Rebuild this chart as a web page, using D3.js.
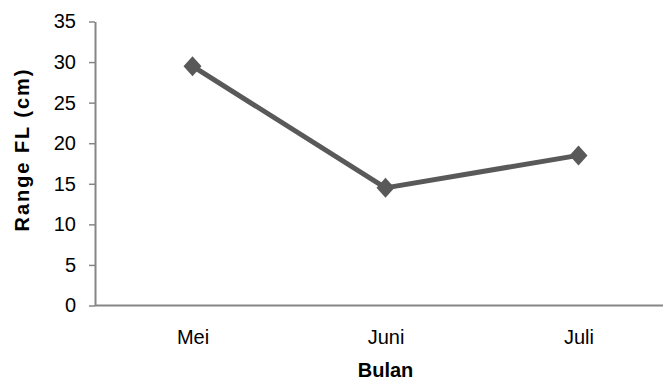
<!DOCTYPE html>
<html>
<head>
<meta charset="utf-8">
<script src="https://cdn.jsdelivr.net/npm/d3@7"></script>
<style>
  html, body { margin: 0; padding: 0; background: #fff; }
  svg { display: block; font-family: "Liberation Sans", Arial, sans-serif; }
</style>
</head>
<body>
<svg id="chart" width="663" height="379"></svg>
<script>
// Monthly range of fork length (FL)
const months = ["Mei", "Juni", "Juli"];
const rangeFL = [29.5, 14.5, 18.5];
const yTicks = [0, 5, 10, 15, 20, 25, 30, 35];

const svg = d3.select("#chart");
const plotLeft = 95, axisRight = 663, plotTop = 21.5, plotBottom = 305.5;
const fontFamily = "'Liberation Sans', Arial, sans-serif";

const x = d3.scalePoint().domain(months).range([96, 675]).padding(0.5);
const y = d3.scaleLinear().domain([0, 35]).range([plotBottom, plotTop]);

const axisColor = "#868686";

// Y axis
const yAxis = svg.append("g")
  .attr("transform", `translate(${plotLeft},0)`)
  .call(d3.axisLeft(y).tickValues(yTicks).tickSize(6).tickPadding(13).tickSizeOuter(0));
yAxis.select(".domain").attr("stroke", axisColor).attr("stroke-width", 2);
yAxis.selectAll(".tick line").attr("stroke", axisColor).attr("stroke-width", 1.5);
yAxis.selectAll(".tick text").attr("fill", "#000")
  .style("font-size", "20px").style("font-family", fontFamily);

// X axis
const xAxis = svg.append("g")
  .attr("transform", `translate(0,${plotBottom})`)
  .call(d3.axisBottom(x).tickSize(0).tickPadding(24));
xAxis.select(".domain").remove();
xAxis.append("line")
  .attr("x1", plotLeft).attr("x2", axisRight)
  .attr("stroke", axisColor).attr("stroke-width", 2);
xAxis.selectAll(".tick text").attr("fill", "#000")
  .style("font-size", "20px").style("font-family", fontFamily);

// Axis titles
svg.append("text")
  .attr("x", x("Juni")).attr("y", 376.5)
  .attr("text-anchor", "middle")
  .style("font-size", "20px").style("font-weight", "bold").style("font-family", fontFamily)
  .text("Bulan");

svg.append("text")
  .attr("transform", "translate(29,150.5) rotate(-90)")
  .attr("text-anchor", "middle")
  .attr("textLength", 162)
  .attr("lengthAdjust", "spacing")
  .style("font-size", "20px").style("font-weight", "bold").style("font-family", fontFamily)
  .text("Range FL (cm)");

// Line
const pts = months.map((m, i) => [x(m), y(rangeFL[i])]);
svg.append("path")
  .attr("d", d3.line()(pts))
  .attr("fill", "none")
  .attr("stroke", "#595959")
  .attr("stroke-width", 5)
  .attr("stroke-linejoin", "round");

// Diamond markers
svg.selectAll(".marker")
  .data(months)
  .enter().append("path")
  .attr("class", "marker")
  .attr("transform", (m, i) => `translate(${x(m)},${y(rangeFL[i])})`)
  .attr("d", "M0,-10 L9,0 L0,10 L-9,0 Z")
  .attr("fill", "#595959");
</script>
</body>
</html>
